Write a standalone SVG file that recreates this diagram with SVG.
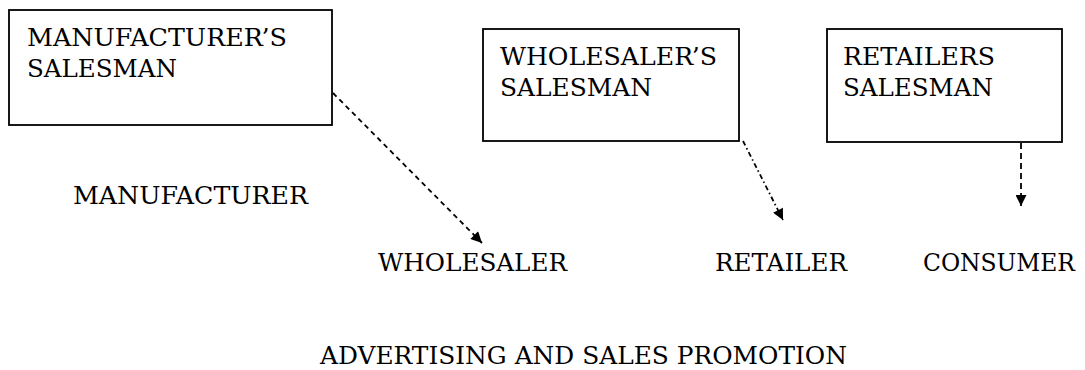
<svg xmlns="http://www.w3.org/2000/svg" width="1085" height="370" viewBox="0 0 1085 370">
<style>
.box{fill:#fff;stroke:#000;stroke-width:1.8}
.t{font-family:"DejaVu Serif","Liberation Serif",serif;font-size:25px;fill:#000}
.c{stroke:#000;stroke-width:1.8;fill:none}
</style>
<defs>
<marker id="ah" viewBox="0 0 10 10" refX="10" refY="5" markerWidth="14" markerHeight="11" markerUnits="userSpaceOnUse" orient="auto">
<path d="M0,0 L10,5 L0,10 z" fill="#000"/>
</marker>
</defs>
<rect width="1085" height="370" fill="#fff"/>
<g id="manufacturers-salesman">
<rect class="box" x="9" y="10" width="323" height="115"/>
<text class="t" x="27" y="46" textLength="260" lengthAdjust="spacingAndGlyphs">MANUFACTURER’S</text>
<text class="t" x="27" y="77" textLength="150" lengthAdjust="spacingAndGlyphs">SALESMAN</text>
</g>
<g id="wholesalers-salesman">
<rect class="box" x="483" y="29" width="256" height="112"/>
<text class="t" x="500" y="65" textLength="217" lengthAdjust="spacingAndGlyphs">WHOLESALER’S</text>
<text class="t" x="500" y="96" textLength="152" lengthAdjust="spacingAndGlyphs">SALESMAN</text>
</g>
<g id="retailers-salesman">
<rect class="box" x="827" y="29" width="235" height="113"/>
<text class="t" x="843" y="65" textLength="152" lengthAdjust="spacingAndGlyphs">RETAILERS</text>
<text class="t" x="843" y="96" textLength="150" lengthAdjust="spacingAndGlyphs">SALESMAN</text>
</g>
<g id="manufacturer"><text class="t" x="73" y="204" textLength="235" lengthAdjust="spacingAndGlyphs">MANUFACTURER</text></g>
<g id="wholesaler"><text class="t" x="378" y="271" textLength="189" lengthAdjust="spacingAndGlyphs">WHOLESALER</text></g>
<g id="retailer"><text class="t" x="715" y="271" textLength="132" lengthAdjust="spacingAndGlyphs">RETAILER</text></g>
<g id="consumer"><text class="t" x="923" y="271" textLength="152" lengthAdjust="spacingAndGlyphs">CONSUMER</text></g>
<g id="advertising"><text class="t" x="320" y="364" textLength="527" lengthAdjust="spacingAndGlyphs">ADVERTISING AND SALES PROMOTION</text></g>
<g id="connectors">
<line class="c" x1="333" y1="93" x2="482" y2="243" stroke-dasharray="5,4" marker-end="url(#ah)"/>
<line class="c" x1="743" y1="141" x2="783" y2="220" stroke-dasharray="5,3,1.5,3" marker-end="url(#ah)"/>
<line class="c" x1="1021" y1="143" x2="1021" y2="206" stroke-dasharray="6,4" marker-end="url(#ah)"/>
</g>
</svg>
